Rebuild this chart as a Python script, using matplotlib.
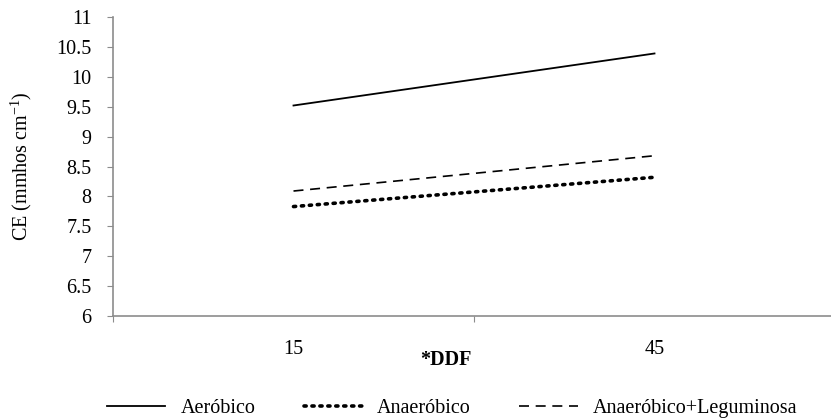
import numpy as np
import matplotlib.pyplot as plt

# data
categories = ['15', '45']
aerobico = [9.52, 10.39]
anaerobico = [7.83, 8.32]
anaerobico_leg = [8.09, 8.68]
y_ticks = [6, 6.5, 7, 7.5, 8, 8.5, 9, 9.5, 10, 10.5, 11]

plt.rcParams['font.family'] = ['Liberation Serif', 'DejaVu Serif']
plt.rcParams['mathtext.fontset'] = 'custom'
plt.rcParams['mathtext.rm'] = 'Liberation Serif'
plt.rcParams['mathtext.it'] = 'Liberation Serif:italic'
plt.rcParams['mathtext.bf'] = 'Liberation Serif:bold'
fs = 14.5

fig = plt.figure(figsize=(8.31, 4.2), dpi=100)
W, H = 831.0, 420.0
ax = fig.add_axes([113 / W, 1 - 316 / H, 722 / W, (316 - 17) / H])

x = np.arange(len(categories))
ax.plot(x, aerobico, color='black', lw=1.3, ls='-', label='Aeróbico')
ax.plot(x, anaerobico, color='black', lw=2.6, ls=(0, (0.6, 1.6)),
        dash_capstyle='round', label='Anaeróbico')
ax.plot(x, anaerobico_leg, color='black', lw=1.2, ls=(0, (6, 4)),
        label='Anaeróbico+Leguminosa')

ax.set_xlim(-0.5, 1.5)
ax.set_ylim(6, 11)
ax.set_yticks(y_ticks)
ax.set_yticklabels(['%g' % v for v in y_ticks], fontsize=fs)

ax.set_xticks([-0.5, 0.5, 1.5])
ax.set_xticklabels([])
ax.set_xticks(x, minor=True)
ax.set_xticklabels(categories, minor=True, fontsize=fs)
ax.tick_params(axis='x', which='minor', length=0, pad=17)
ax.tick_params(axis='x', which='major', length=4.3, color='#8c8c8c', direction='out')
ax.tick_params(axis='y', length=4.3, color='#8c8c8c', direction='out', pad=11)

for s in ['top', 'right']:
    ax.spines[s].set_visible(False)
for s in ['left', 'bottom']:
    ax.spines[s].set_color('#8c8c8c')
    ax.spines[s].set_linewidth(1.2)

ax.set_xlabel('*DDF', fontsize=fs, fontweight='bold')
ax.xaxis.set_label_coords((446 - 113) / 722, -(350 - 316) / 299, transform=ax.transAxes)
ax.set_ylabel('CE (mmhos cm$^{\\mathregular{-1}}$)', fontsize=fs)
ax.yaxis.set_label_coords(-(113 - 34) / 722, 0.5, transform=ax.transAxes)

fig.legend(loc='center left', bbox_to_anchor=(107 / W, 1 - 408 / H), ncol=3,
           frameon=False, fontsize=fs, handlelength=2.9, handletextpad=0.75,
           columnspacing=2.4, borderpad=0, borderaxespad=0)

fig.savefig('out.png', dpi=100)
